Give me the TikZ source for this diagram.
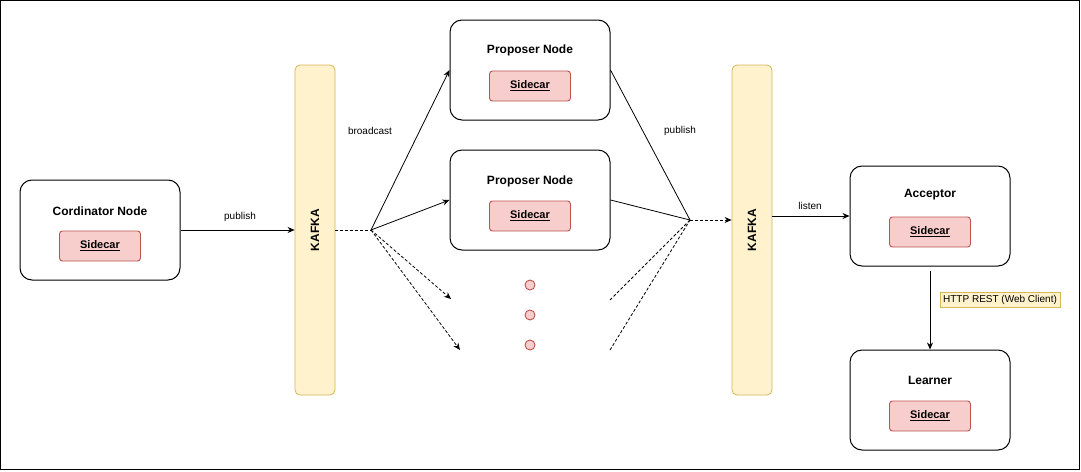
\documentclass[tikz,border=0pt]{standalone}
\usepackage{fontspec}
\setmainfont{Liberation Sans}
\usetikzlibrary{arrows.meta}

\definecolor{kafkafill}{HTML}{FFF2CC}
\definecolor{kafkaline}{HTML}{D6B656}
\definecolor{carfill}{HTML}{F8CECC}
\definecolor{carline}{HTML}{B85450}

\tikzset{
  svcbox/.style={draw, line width=1pt, rounded corners=12pt, minimum width=160pt, minimum height=100pt},
  carbox/.style={draw=carline, fill=carfill, line width=0.9pt, rounded corners=3pt, minimum width=81pt, minimum height=30pt,
    font=\fontsize{11}{13}\selectfont\bfseries},
  busbox/.style={draw=kafkaline, fill=kafkafill, line width=0.8pt, rounded corners=5pt, minimum width=40pt, minimum height=330pt},
  title/.style={font=\fontsize{12}{14}\selectfont\bfseries},
  lbl/.style={font=\fontsize{10}{12}\selectfont},
  arr/.style={-{Stealth[length=7pt,width=6pt]}, line width=0.8pt},
  dsh/.style={dashed, dash pattern=on 3pt off 2pt, line width=0.8pt}
}

\begin{document}
\begin{tikzpicture}[x=1pt, y=-1pt]
  \useasboundingbox (0,0) rectangle (1081,471);
  \draw[line width=1.3pt] (0.7,0.7) rectangle (1079.6,469.6);

  % kafka queues
  \node[busbox] (kafkaA) at (315,230) {};
  \node[rotate=90, title] at (kafkaA) {KAFKA};
  \node[busbox] (kafkaB) at (752,230) {};
  \node[rotate=90, title] at (kafkaB) {KAFKA};

  % service boxes
  \node[svcbox] (coord) at (100,230) {};
  \node[title] at (100,211) {Cordinator Node};
  \node[carbox] at (100,246) {\underline{Sidecar}};

  \node[svcbox] (propA) at (530,70) {};
  \node[title] at (530,50) {Proposer Node};
  \node[carbox] at (530,86) {\underline{Sidecar}};

  \node[svcbox] (propB) at (530,200) {};
  \node[title] at (530,181) {Proposer Node};
  \node[carbox] at (530,216) {\underline{Sidecar}};

  \node[svcbox] (acc) at (930,216) {};
  \node[title] at (930,195) {Acceptor};
  \node[carbox] at (930,232) {\underline{Sidecar}};

  \node[svcbox] (learn) at (930,400) {};
  \node[title] at (930,380) {Learner};
  \node[carbox] at (930,416) {\underline{Sidecar}};

  % more proposers
  \foreach \y in {285,315,345}
    \draw[carline, fill=carfill, line width=0.9pt] (530,\y) circle (5pt);

  \coordinate (hubA) at (371,230);
  \coordinate (hubB) at (690,220);
  \coordinate (endA) at (451,299);
  \coordinate (endB) at (460,350);
  \coordinate (startA) at (610,300);
  \coordinate (startB) at (610,350);

  \draw[arr] (coord.east) -- (coord.east -| kafkaA.west);
  \node[lbl] at (240,217) {publish};
  \draw[dsh] (kafkaA.east |- hubA) -- (hubA);
  \node[lbl] at (370,131) {broadcast};
  \draw[arr] (hubA) -- (propA.west);
  \draw[arr] (hubA) -- (propB.west);
  \draw[arr, dsh] (hubA) -- (endA);
  \draw[arr, dsh] (hubA) -- (endB);

  \draw[line width=0.8pt] (propA.east) -- (hubB);
  \draw[line width=0.8pt] (propB.east) -- (hubB);
  \draw[dsh] (startA) -- (hubB);
  \draw[dsh] (startB) -- (hubB);
  \node[lbl] at (680,131) {publish};
  \draw[arr, dsh] (hubB) -- (hubB -| kafkaB.west);

  \draw[arr] (kafkaB.east |- acc.west) -- (acc.west);
  \node[lbl] at (810,206) {listen};

  \draw[arr] ([yshift=-4pt]acc.south) -- (learn.north);
  \node[lbl, draw=kafkaline, fill=kafkafill, inner sep=3pt] at (1000,300) {HTTP REST (Web Client)};
\end{tikzpicture}
\end{document}
